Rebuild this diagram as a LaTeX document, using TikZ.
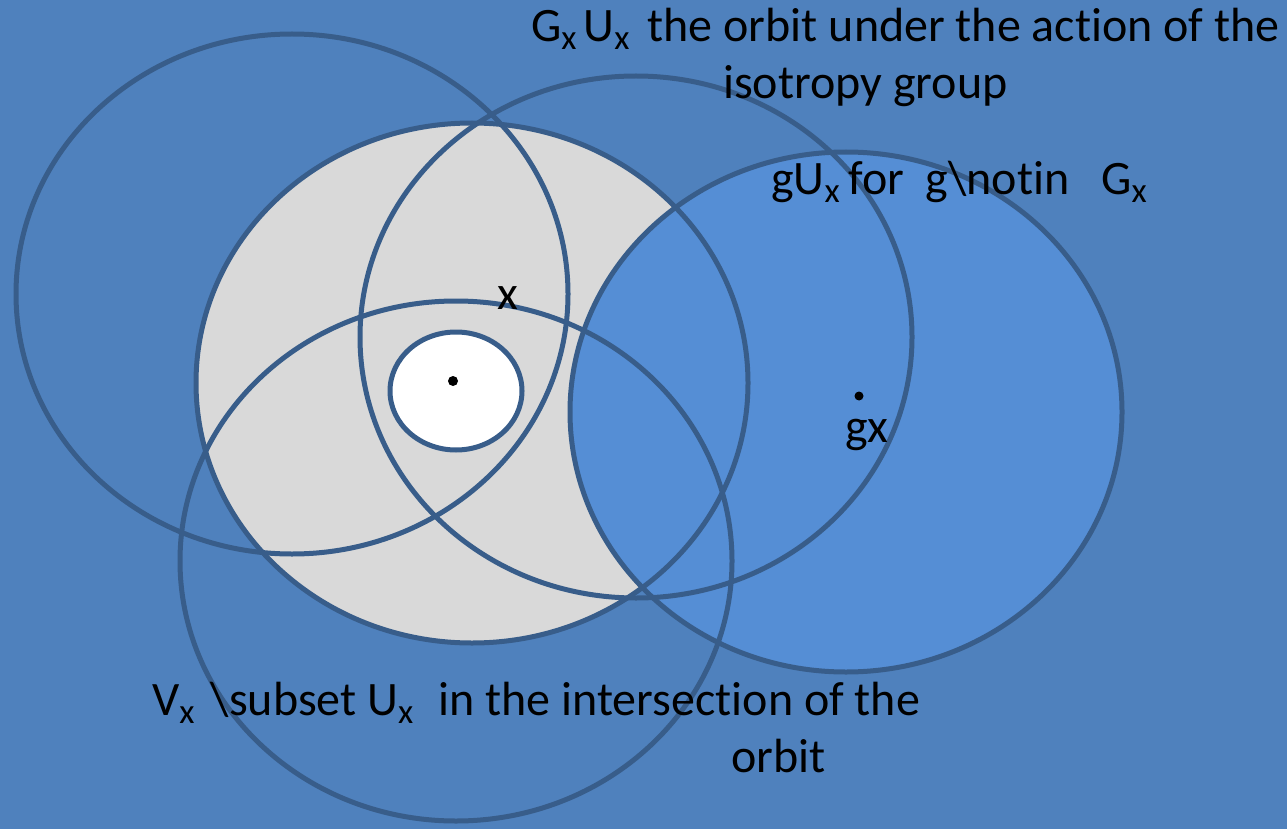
\documentclass[tikz,border=0pt]{standalone}
\usepackage{fontspec}
\setmainfont[Ligatures={NoCommon}]{Carlito}
\definecolor{bg}{HTML}{4F81BD}
\definecolor{fillblue}{HTML}{558ED5}
\definecolor{greyfill}{HTML}{D9D9D9}
\definecolor{edge}{HTML}{385D8A}
\newcommand{\sbx}{\raisebox{-8pt}{\fontsize{35}{35}\selectfont x}}
\begin{document}
\begin{tikzpicture}[x=1pt,y=-1pt,
  ring/.style={draw=edge,line width=5pt},
  lbl/.style={inner sep=0pt,font=\fontsize{48}{56}\selectfont,text=black,anchor=base west},
  dotmark/.style={fill=black}]
\useasboundingbox (0,0) rectangle (1287,829);
\fill[bg] (0,0) rectangle (1287,829);
% fills
\fill[greyfill] (472,383) ellipse [x radius=276pt,y radius=260pt];
\fill[fillblue] (846,412) ellipse [x radius=276pt,y radius=260pt];
% outlines
\draw[ring] (292,294) ellipse [x radius=276pt,y radius=260pt];
\draw[ring] (472,383) ellipse [x radius=276pt,y radius=260pt];
\draw[ring] (636,337) ellipse [x radius=276pt,y radius=261pt];
\draw[ring] (456,561) ellipse [x radius=276pt,y radius=260pt];
\draw[ring] (846,412) ellipse [x radius=276pt,y radius=260pt];
% small white neighbourhood
\draw[ring,fill=white] (456,391) ellipse [x radius=66pt,y radius=59pt];
% points
\fill[dotmark] (453,381) circle (5pt);
\fill[dotmark] (859,396) circle (4.5pt);
% labels
\node[lbl] (top1) at (531,42) {G\sbx\hspace{7pt}U\sbx\hspace{18pt}the orbit under the action of the};
\node[lbl] (top2) at (723,99) {isotropy group};
\node[lbl] (gux) at (771,195) {gU\sbx\hspace{9pt}for\hspace{21pt}g\textbackslash notin\hspace{32pt}G\sbx};
\node[lbl,anchor=base] (xlab) at (508,309) {x};
\node[lbl] (gxlab) at (845,442) {gx};
\node[lbl] (bot1) at (152,715) {V\sbx\hspace{16pt}\textbackslash subset U\sbx\hspace{25pt}in the intersection of the};
\node[lbl] (bot2) at (731,772) {orbit};
\end{tikzpicture}
\end{document}
